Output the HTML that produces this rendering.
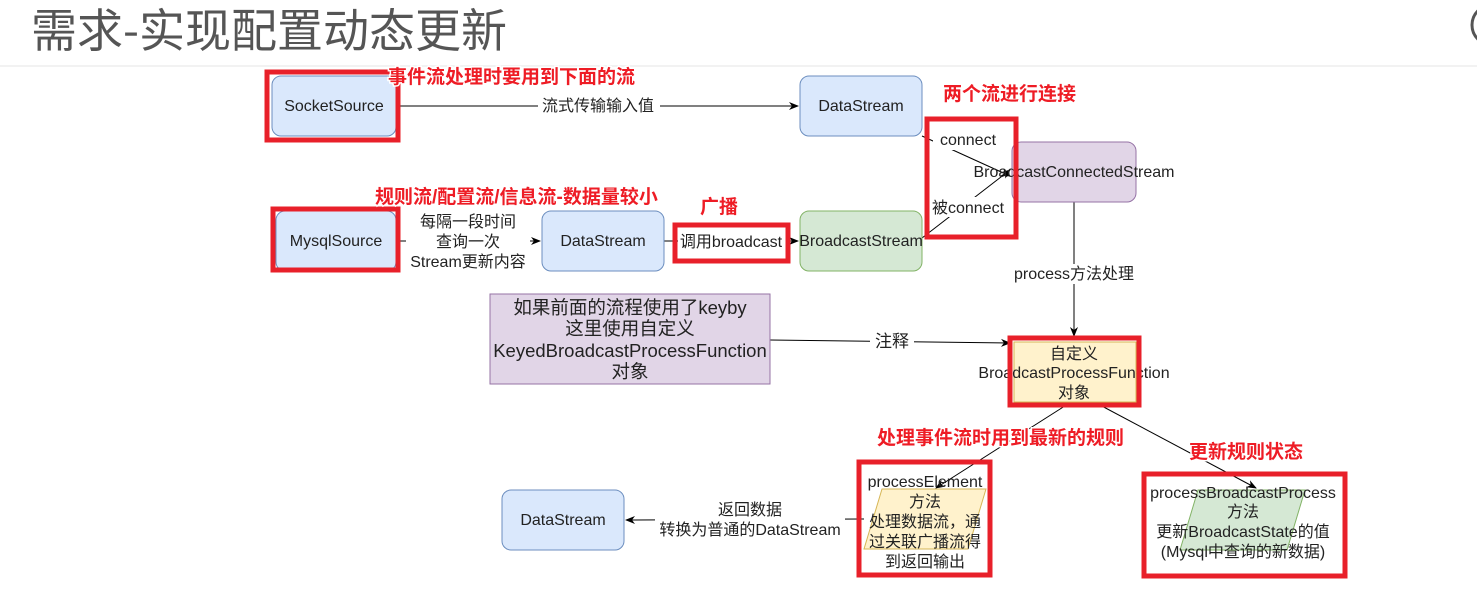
<!DOCTYPE html>
<html><head><meta charset="utf-8"><style>
html,body{margin:0;padding:0;background:#fff;}
svg text{font-family:"Liberation Sans","Noto Sans CJK SC",sans-serif;}
</style></head><body>
<svg width="1477" height="589" viewBox="0 0 1477 589" xmlns="http://www.w3.org/2000/svg">
<defs>
<marker id="a" markerWidth="10" markerHeight="10" refX="9" refY="5" orient="auto" markerUnits="userSpaceOnUse"><path d="M0,1 L10,5 L0,9 L3,5 Z" fill="#000"/></marker>
</defs>
<text x="31" y="47" font-size="46" fill="#555" style='font-family:"Noto Sans CJK SC",sans-serif'>需求-实现配置动态更新</text>
<line x1="0" y1="66" x2="1477" y2="66" stroke="#eee" stroke-width="1.5"/>
<circle cx="1492" cy="25" r="20" fill="none" stroke="#555" stroke-width="3"/>

<g font-size="16" fill="#222" text-anchor="middle">
<line x1="396" y1="106" x2="798" y2="106" stroke="#000" marker-end="url(#a)"/>
<rect x="538" y="97" width="122" height="18" fill="#fff"/>
<text x="598" y="111">流式传输输入值</text>

<line x1="396" y1="241" x2="540" y2="241" stroke="#000" marker-end="url(#a)"/>
<rect x="406" y="212" width="124" height="60" fill="#fff"/>
<text x="468" y="227">每隔一段时间</text>
<text x="468" y="247">查询一次</text>
<text x="468" y="267">Stream更新内容</text>

<line x1="664" y1="241" x2="798" y2="241" stroke="#000" marker-end="url(#a)"/>

<line x1="922" y1="136" x2="1010" y2="176" stroke="#000" marker-end="url(#a)"/>
<line x1="922" y1="238" x2="1010" y2="170" stroke="#000" marker-end="url(#a)"/>
<rect x="933" y="130" width="72" height="20" fill="#fff"/>
<text x="968" y="145">connect</text>
<rect x="928" y="197" width="80" height="20" fill="#fff"/>
<text x="968" y="213">被connect</text>

<line x1="1074" y1="202" x2="1074" y2="336" stroke="#000" marker-end="url(#a)"/>
<rect x="1008" y="264" width="132" height="20" fill="#fff"/>
<text x="1074" y="279">process方法处理</text>

<line x1="770" y1="340" x2="1010" y2="343" stroke="#000" marker-end="url(#a)"/>
<rect x="870" y="332" width="44" height="20" fill="#fff"/>
<text x="892" y="347" font-size="17">注释</text>

<line x1="1068" y1="404" x2="936" y2="488" stroke="#000" marker-end="url(#a)"/>
<line x1="1098" y1="404" x2="1256" y2="488" stroke="#000" marker-end="url(#a)"/>

<line x1="864" y1="519" x2="626" y2="520" stroke="#000" marker-end="url(#a)"/>
<rect x="655" y="500" width="190" height="40" fill="#fff"/>
<text x="750" y="515">返回数据</text>
<text x="750" y="535">转换为普通的DataStream</text>

<rect x="272" y="76" width="124" height="60" rx="9" fill="#dae8fc" stroke="#6c8ebf"/>
<text x="334" y="111">SocketSource</text>
<rect x="800" y="76" width="122" height="60" rx="9" fill="#dae8fc" stroke="#6c8ebf"/>
<text x="861" y="111">DataStream</text>
<rect x="276" y="211" width="120" height="60" rx="9" fill="#dae8fc" stroke="#6c8ebf"/>
<text x="336" y="246">MysqlSource</text>
<rect x="542" y="211" width="122" height="60" rx="9" fill="#dae8fc" stroke="#6c8ebf"/>
<text x="603" y="246">DataStream</text>
<rect x="800" y="211" width="122" height="60" rx="9" fill="#d5e8d4" stroke="#82b366"/>
<text x="861" y="246">BroadcastStream</text>
<rect x="1012" y="142" width="124" height="60" rx="9" fill="#e1d5e7" stroke="#9673a6"/>
<text x="1074" y="177">BroadcastConnectedStream</text>
<rect x="678" y="232" width="108" height="20" fill="#fff"/>
<text x="731" y="247">调用broadcast</text>

<rect x="490" y="294" width="280" height="90" fill="#e1d5e7" stroke="#9673a6"/>
<g font-size="18.5"><text x="630" y="314">如果前面的流程使用了keyby</text>
<text x="630" y="335">这里使用自定义</text>
<text x="630" y="357">KeyedBroadcastProcessFunction</text>
<text x="630" y="378">对象</text></g>

<rect x="1014" y="342" width="122" height="60" fill="#fff2cc" stroke="#d6b656"/>
<text x="1074" y="359">自定义</text>
<text x="1074" y="378">BroadcastProcessFunction</text>
<text x="1074" y="398">对象</text>

<polygon points="882,489 986,489 968,549 864,549" fill="#fff2cc" stroke="#d6b656"/>
<text x="925" y="487">processElement</text>
<text x="925" y="507">方法</text>
<text x="925" y="527">处理数据流，通</text>
<text x="925" y="547">过关联广播流得</text>
<text x="925" y="567">到返回输出</text>

<polygon points="1198,490 1305,490 1287,550 1180,550" fill="#d5e8d4" stroke="#82b366"/>
<text x="1243" y="498">processBroadcastProcess</text>
<text x="1243" y="517">方法</text>
<text x="1243" y="537">更新BroadcastState的值</text>
<text x="1243" y="557">(Mysql中查询的新数据)</text>

<rect x="502" y="490" width="122" height="60" rx="9" fill="#dae8fc" stroke="#6c8ebf"/>
<text x="563" y="525">DataStream</text>
</g>

<g fill="none" stroke="#e8202a" stroke-width="5">
<rect x="267" y="72" width="131" height="68"/>
<rect x="273" y="209" width="125" height="61"/>
<rect x="675" y="225" width="113" height="36"/>
<rect x="927" y="119" width="89" height="118"/>
<rect x="1010" y="338" width="129" height="67"/>
<rect x="859" y="462" width="131" height="113"/>
<rect x="1144" y="474" width="201" height="102"/>
</g>

<g font-size="19" font-weight="bold" fill="#ee1c25" stroke="#fff" stroke-width="3" paint-order="stroke" text-anchor="start" style='font-family:"Noto Sans CJK SC",sans-serif'>
<text x="388" y="83">事件流处理时要用到下面的流</text>
<text x="943" y="100">两个流进行连接</text>
<text x="375" y="203">规则流/配置流/信息流-数据量较小</text>
<text x="700" y="213">广播</text>
<text x="877" y="444">处理事件流时用到最新的规则</text>
<text x="1189" y="458">更新规则状态</text>
</g>
</svg>
</body></html>
